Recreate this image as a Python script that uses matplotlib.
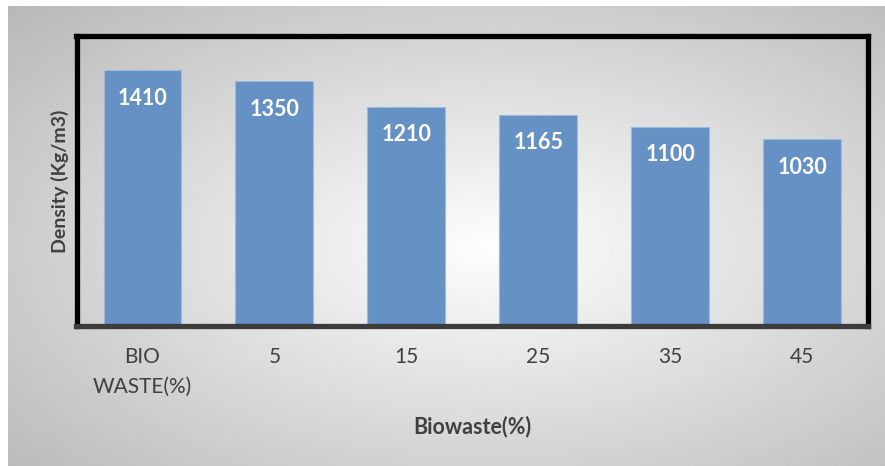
import numpy as np
import matplotlib

matplotlib.use("Agg")
import matplotlib.pyplot as plt

categories = ["BIO\nWASTE(%)", "5", "15", "25", "35", "45"]
density = [1410, 1350, 1210, 1165, 1100, 1030]

W, H = 885, 466
fig = plt.figure(figsize=(W / 100, H / 100), dpi=100)
fig.patch.set_facecolor("white")

# radial grey backdrop behind the chart
bg = fig.add_axes([8 / W, 0, 1 - 8 / W, 1 - 6 / H], zorder=0)
gx, gy = np.meshgrid(np.linspace(-1, 1, 400), np.linspace(-1, 1, 220))
r = np.sqrt((gx - 0.1) ** 2 + (gy - 0.05) ** 2)
shade = np.clip(0.995 - 0.18 * r, 0, 1)
bg.imshow(shade, cmap="gray", vmin=0, vmax=1, aspect="auto",
          extent=[0, 1, 0, 1], interpolation="bilinear")
bg.axis("off")

left, right = 76.5 / W, 868 / W
bottom, top = 1 - 326 / H, 1 - 36 / H
ax = fig.add_axes([left, bottom, right - left, top - bottom], zorder=1)
ax.patch.set_alpha(0)

x = np.arange(len(categories))
bars = ax.bar(x, density, width=0.59, color="#6591c5",
              edgecolor="#9db9dd", linewidth=0.8)

for rect, val in zip(bars, density):
    ax.annotate(f"{val}", (rect.get_x() + rect.get_width() / 2, val),
                xytext=(0, -20), textcoords="offset points",
                ha="center", va="center", color="white",
                fontsize=15.5, fontweight="bold", family="Lato")

ax.set_xlim(-0.5, len(categories) - 0.5)
ax.set_ylim(0, 1600)
ax.set_yticks([])
ax.set_xticks(x)
ax.set_xticklabels(categories, fontsize=15, family="Lato", color="#404040",
                   linespacing=1.6)
ax.tick_params(axis="x", length=0, pad=15)

for side in ["left", "top", "right"]:
    ax.spines[side].set_linewidth(3.8)
    ax.spines[side].set_color("black")
ax.spines["bottom"].set_linewidth(3.8)
ax.spines["bottom"].set_color("#3c3c3c")

ax.set_xlabel("Biowaste(%)", fontsize=15.5, fontweight="bold", family="Lato",
              color="#404040", labelpad=14)
ax.set_ylabel("Density (Kg/m3)", fontsize=14, fontweight="bold", family="Lato",
              color="#404040", va="center")
ax.yaxis.set_label_coords(-0.021, 0.5)

fig.savefig("out.png", dpi=100)
